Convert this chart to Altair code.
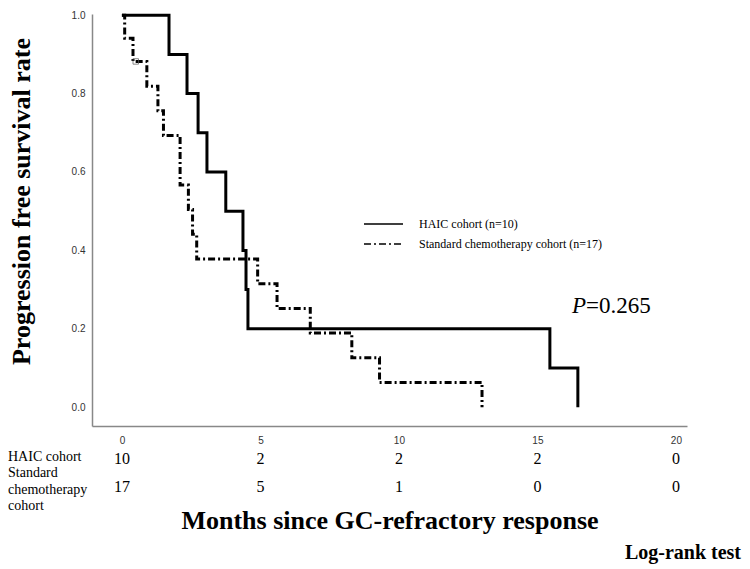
import altair as alt
import pandas as pd

# ---- data ----
groups = ["HAIC cohort (n=10)", "Standard chemotherapy cohort (n=17)"]

haic_months = [0, 1.7, 2.35, 2.75, 3.07, 3.75, 4.37, 4.48, 4.55, 15.45, 16.46]
haic_surv = [1.0, 0.9, 0.8, 0.7, 0.6, 0.5, 0.4, 0.3, 0.2, 0.1, 0.0]

std_months = [0, 0.1, 0.4, 0.9, 1.3, 1.5, 2.1, 2.1, 2.4, 2.55, 2.7, 4.9, 5.6, 6.8, 8.3, 9.3, 13.0]
std_surv = [1.0, 0.941, 0.882, 0.819, 0.756, 0.693, 0.630, 0.567, 0.504, 0.441, 0.378,
            0.315, 0.252, 0.189, 0.126, 0.063, 0.0]

censor_months = [0.5]
censor_surv = [0.882]

risk_months = [0, 5, 10, 15, 20]
haic_risk = [10, 2, 2, 2, 0]
std_risk = [17, 5, 1, 0, 0]

row_labels = ["HAIC cohort", "Standard\nchemotherapy\ncohort"]
y_ticks = [0.0, 0.2, 0.4, 0.6, 0.8, 1.0]
x_ticks = [0, 5, 10, 15, 20]

SERIF = "Liberation Serif"
SANS = "Liberation Sans"

km = pd.DataFrame({
    "month": haic_months + std_months,
    "surv": haic_surv + std_surv,
    "group": [groups[0]] * len(haic_months) + [groups[1]] * len(std_months),
    "order": list(range(len(haic_months))) + list(range(len(std_months))),
})
censor = pd.DataFrame({"month": censor_months, "surv": censor_surv})
risk = pd.DataFrame({
    "month": risk_months + risk_months,
    "count": haic_risk + std_risk,
    "row": ["HAIC"] * len(risk_months) + ["STD"] * len(risk_months),
})

TOP = 6  # top padding so that the "1.0" label is not cut
xscale = alt.Scale(domain=[-1.08, 20.4], nice=False, zero=False)
yscale = alt.Scale(domain=[-0.048, 1.003], nice=False, zero=False)

xaxis = alt.Axis(
    values=x_ticks, format="d", ticks=False, grid=False,
    domainColor="#888888", domainWidth=1.5,
    labelFont=SANS, labelFontSize=10, labelColor="#333333", labelPadding=9,
    title="Months since GC-refractory response",
    titleFont=SERIF, titleFontSize=26, titleFontWeight="bold", titleColor="black",
    titleBaseline="alphabetic", titleY=102,
)
yaxis = alt.Axis(
    values=y_ticks, format=".1f", ticks=False, grid=False,
    domainColor="#888888", domainWidth=1.5,
    labelFont=SANS, labelFontSize=10, labelColor="#333333", labelPadding=7,
    title="Progression free survival rate",
    titleFont=SERIF, titleFontSize=26, titleFontWeight="bold", titleColor="black",
    titleBaseline="alphabetic", titleX=-63, titleY=193 - TOP, titleAlign="center",
)

lines = alt.Chart(km).mark_line(
    interpolate="step-after", color="black", strokeWidth=3, strokeCap="butt"
).encode(
    x=alt.X("month:Q", scale=xscale, axis=xaxis),
    y=alt.Y("surv:Q", scale=yscale, axis=yaxis),
    order=alt.Order("order:Q"),
    strokeDash=alt.StrokeDash(
        "group:N",
        scale=alt.Scale(domain=groups, range=[[1, 0], [7, 3, 2, 3]]),
        legend=alt.Legend(
            title=None, orient="none", legendX=271, legendY=209 - TOP,
            symbolType="stroke", symbolSize=1521, symbolStrokeWidth=1.5,
            symbolStrokeColor="black", labelFont=SERIF, labelFontSize=12,
            labelColor="black", labelOffset=15, labelLimit=0, clipHeight=14,
            rowPadding=6, padding=0,
        ),
    ),
)

censor_pts = alt.Chart(censor).mark_point(
    shape="square", size=30, filled=False, color="#555555", strokeWidth=1
).encode(x=alt.X("month:Q", scale=xscale), y=alt.Y("surv:Q", scale=yscale))

risk_haic = alt.Chart(risk).transform_filter(alt.datum.row == "HAIC").mark_text(
    font=SERIF, fontSize=16, color="black", align="center", baseline="middle"
).encode(x=alt.X("month:Q", scale=xscale), y=alt.value(451 - TOP), text="count:Q")

risk_std = alt.Chart(risk).transform_filter(alt.datum.row == "STD").mark_text(
    font=SERIF, fontSize=16, color="black", align="center", baseline="middle"
).encode(x=alt.X("month:Q", scale=xscale), y=alt.value(479 - TOP), text="count:Q")

lab_df = pd.DataFrame({"label": row_labels})
lab_haic = alt.Chart(lab_df).transform_filter(alt.datum.label == row_labels[0]).mark_text(
    font=SERIF, fontSize=14, color="black", align="left", baseline="middle"
).encode(x=alt.value(-84), y=alt.value(449 - TOP), text="label:N")
lab_std = alt.Chart(lab_df).transform_filter(alt.datum.label == row_labels[1]).mark_text(
    font=SERIF, fontSize=14, color="black", align="left", baseline="middle",
    lineBreak="\n", lineHeight=16.5
).encode(x=alt.value(-84), y=alt.value(465 - TOP), text="label:N")

ann = pd.DataFrame({"p": ["P"], "val": ["=0.265"], "test": ["Log-rank test"]})
p_ital = alt.Chart(ann).mark_text(
    font=SERIF, fontSize=23, fontStyle="italic", color="black",
    align="left", baseline="alphabetic"
).encode(x=alt.value(480), y=alt.value(305 - TOP), text="p:N")
p_val = alt.Chart(ann).mark_text(
    font=SERIF, fontSize=23, color="black", align="left", baseline="alphabetic"
).encode(x=alt.value(494), y=alt.value(305 - TOP), text="val:N")
logrank = alt.Chart(ann).mark_text(
    font=SERIF, fontSize=20, fontWeight="bold", color="black",
    align="right", baseline="alphabetic"
).encode(x=alt.value(649), y=alt.value(545), text="test:N")

chart = alt.layer(
    lines, censor_pts, risk_haic, risk_std, lab_haic, lab_std, p_ital, p_val, logrank
).properties(
    width=595, height=418 - TOP,
    padding={"left": 84, "top": TOP, "right": 55, "bottom": 139},
    autosize=alt.AutoSizeParams(type="none"),
    background="white",
).configure_view(stroke=None)

chart.save("out.html", embed_options={"renderer": "svg", "actions": False})
